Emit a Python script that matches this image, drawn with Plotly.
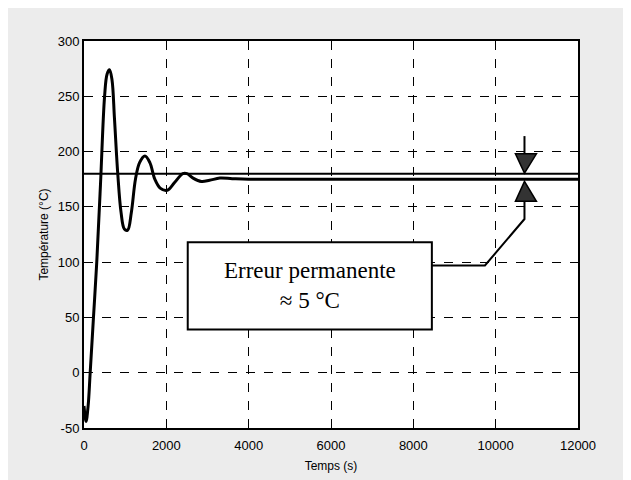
import plotly.graph_objects as go

# Step response
temps_s = [0, 50, 100, 150, 230, 310, 400, 500, 560, 620, 680, 740, 820, 900, 980,
           1060, 1150, 1250, 1350, 1480, 1600, 1720, 1850, 2020, 2200, 2400, 2500,
           2650, 2850, 3050, 3300, 3600, 4000, 6000, 8000, 10000, 12000]
temperature = [-30, -44, -30, 0, 50, 100, 170, 250, 270, 274, 265, 230, 180, 145, 130,
               129, 145, 175, 190, 196, 190, 175, 167, 165, 172, 180, 180,
               176, 173, 174, 176, 175.5, 175, 175, 175, 175, 175]

consigne_x = [0, 12000]
consigne_y = [180, 180]

x_ticks = [0, 2000, 4000, 6000, 8000, 10000, 12000]
y_ticks = [-50, 0, 50, 100, 150, 200, 250, 300]

# annotation geometry (data coordinates)
arrow_x = 10700
callout_x = [8450, 9740, 10700, 10700]
callout_y = [97, 97, 139, 155]
annot_text = "Erreur permanente<br>≈ 5 °C"

fig = go.Figure()
fig.add_trace(go.Scatter(x=consigne_x, y=consigne_y, mode="lines",
                         line=dict(color="black", width=2), showlegend=False))
fig.add_trace(go.Scatter(x=temps_s, y=temperature, mode="lines", line_shape="spline",
                         line=dict(color="black", width=3), showlegend=False))
# callout line
fig.add_trace(go.Scatter(x=callout_x, y=callout_y, mode="lines",
                         line=dict(color="black", width=2), showlegend=False))
# vertical stem above the down arrow
fig.add_trace(go.Scatter(x=[arrow_x, arrow_x], y=[214, 198], mode="lines",
                         line=dict(color="black", width=2), showlegend=False))

# triangles
fig.add_shape(type="path", xref="x", yref="y",
              path=f"M 10480 198 L 10990 198 L {arrow_x} 180.5 Z",
              fillcolor="#333333", line=dict(color="black", width=1.5))
fig.add_shape(type="path", xref="x", yref="y",
              path=f"M 10480 155 L 10990 155 L {arrow_x} 173 Z",
              fillcolor="#333333", line=dict(color="black", width=1.5))

# text box
fig.add_shape(type="rect", xref="x", yref="y", x0=2520, x1=8450, y0=39, y1=118,
              fillcolor="white", line=dict(color="black", width=2), layer="above")
fig.add_annotation(x=5485, y=78.5, xref="x", yref="y", text=annot_text, showarrow=False,
                   font=dict(family="Liberation Serif, Times New Roman, serif", size=23, color="black"))

axis_common = dict(showline=True, mirror=True, linecolor="black", linewidth=2,
                   showgrid=True, gridcolor="black", griddash="dash", gridwidth=1.2,
                   zeroline=False, ticks="", automargin=False,
                   tickfont=dict(family="Liberation Sans, Arial, sans-serif", size=13, color="black"))

fig.update_xaxes(range=[0, 12000], tickvals=x_ticks, ticktext=[str(v) for v in x_ticks],
                 ticklabelstandoff=4,
                 title=dict(text="Temps (s)", font=dict(family="Liberation Sans, Arial", size=12, color="black"),
                            standoff=10),
                 **axis_common)
fig.update_yaxes(range=[-50, 300], tickvals=y_ticks, ticktext=[str(v) for v in y_ticks],
                 title=dict(text="Température (°C)", font=dict(family="Liberation Sans, Arial", size=12, color="black"),
                            standoff=6),
                 **axis_common)

fig.update_layout(width=631, height=480,
                  margin=dict(l=76, r=61, t=33, b=60),
                  paper_bgcolor="#ececec", plot_bgcolor="white",
                  showlegend=False)

fig.write_html("out.html")
